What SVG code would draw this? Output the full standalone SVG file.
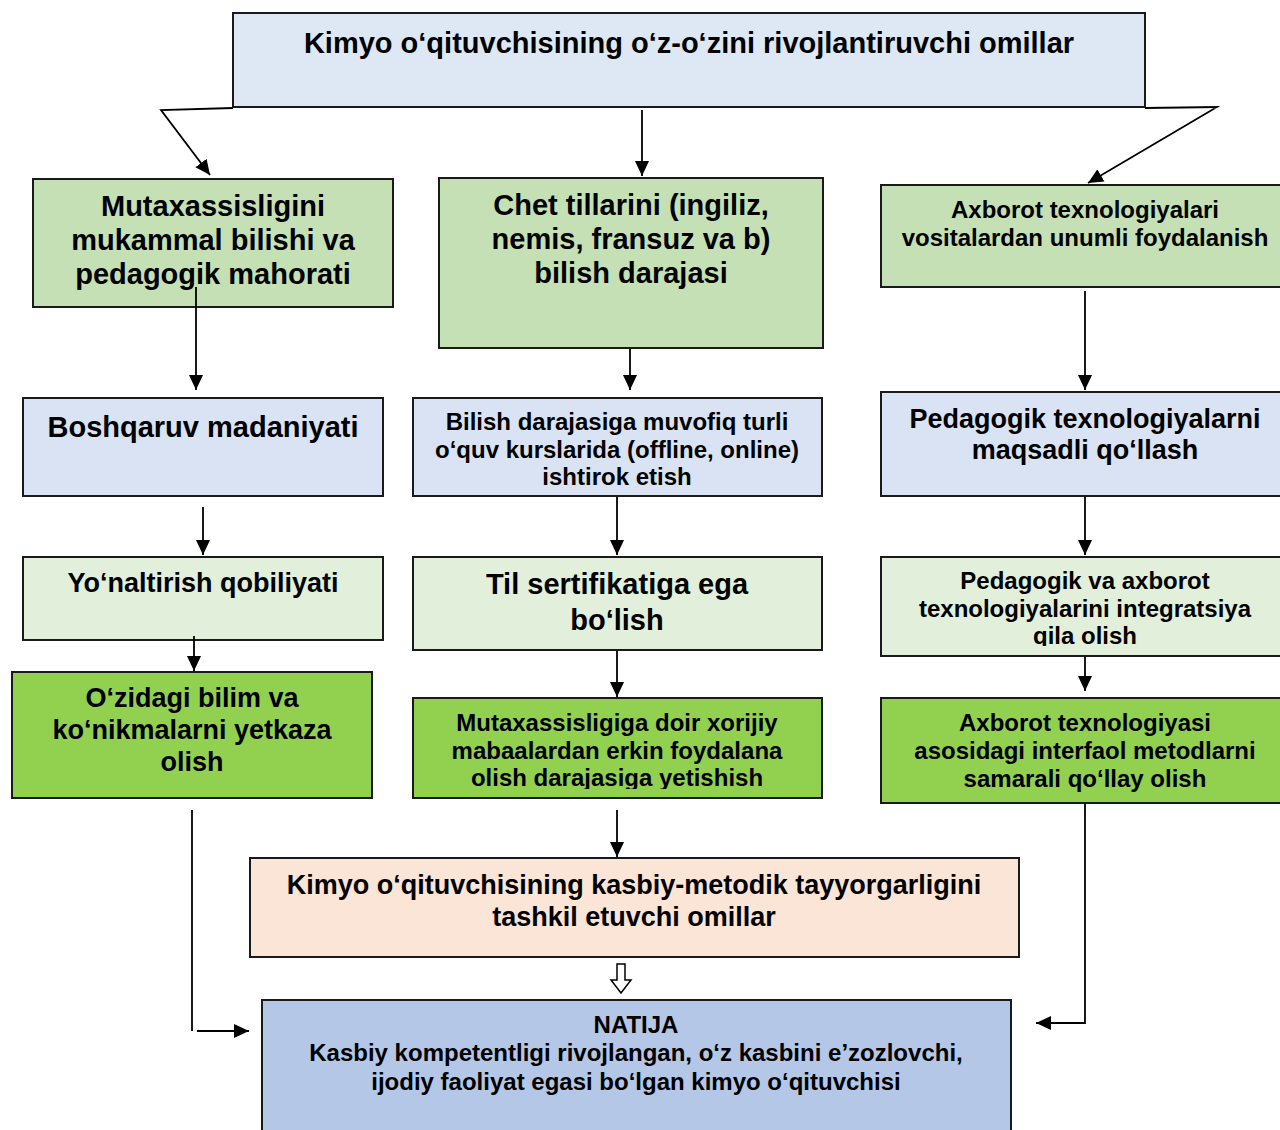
<svg xmlns="http://www.w3.org/2000/svg" width="1280" height="1130" viewBox="0 0 1280 1130">
<defs>
<style>
.box{stroke:#1a1a1a;stroke-width:2}
.t{font-family:"Liberation Sans",Arial,sans-serif;font-weight:bold;fill:#000;text-anchor:middle}
.c{fill:none;stroke:#000;stroke-width:1.8}
.f29{font-size:29px}.f27{font-size:27px}.f24{font-size:24px}
</style>
<marker id="ah" markerUnits="userSpaceOnUse" markerWidth="16" markerHeight="16" viewBox="0 0 16 16" refX="15" refY="8" orient="auto">
<path d="M0,1 L15,8 L0,15 Z" fill="#000"/>
</marker>
<clipPath id="clipB4"><rect x="400" y="690" width="430" height="99"/></clipPath>
<clipPath id="clipC3"><rect x="870" y="550" width="420" height="96"/></clipPath>
</defs>
<rect width="1280" height="1130" fill="#fff"/>

<g id="title">
<rect class="box" x="233" y="13" width="912" height="94" fill="#dde8f4"/>
<text class="t f29" x="689" y="53">Kimyo o‘qituvchisining o‘z-o‘zini rivojlantiruvchi omillar</text>
</g>

<g id="a1">
<rect class="box" x="33" y="179" width="360" height="128" fill="#c5e0b4"/>
<text class="t f29"><tspan x="213" y="216">Mutaxassisligini</tspan><tspan x="213" y="250">mukammal bilishi va</tspan><tspan x="213" y="284">pedagogik mahorati</tspan></text>
</g>
<g id="b1">
<rect class="box" x="439" y="178" width="384" height="170" fill="#c5e0b4"/>
<text class="t f29"><tspan x="631" y="215">Chet tillarini (ingiliz,</tspan><tspan x="631" y="249">nemis, fransuz va b)</tspan><tspan x="631" y="283">bilish darajasi</tspan></text>
</g>
<g id="c1">
<rect class="box" x="881" y="185" width="410" height="102" fill="#c5e0b4"/>
<text class="t f24"><tspan x="1085" y="218">Axborot texnologiyalari</tspan><tspan x="1085" y="246">vositalardan unumli foydalanish</tspan></text>
</g>

<g id="a2">
<rect class="box" x="23" y="398" width="360" height="98" fill="#dae3f3"/>
<text class="t f29" x="203" y="437">Boshqaruv madaniyati</text>
</g>
<g id="a3">
<rect class="box" x="23" y="557" width="360" height="83" fill="#e2efda"/>
<text class="t f27" x="203" y="592">Yo‘naltirish qobiliyati</text>
</g>
<g id="a4">
<rect class="box" x="12" y="672" width="360" height="126" fill="#92d050"/>
<text class="t f27"><tspan x="192" y="707">O‘zidagi bilim va</tspan><tspan x="192" y="739">ko‘nikmalarni yetkaza</tspan><tspan x="192" y="771">olish</tspan></text>
</g>

<g id="b2">
<rect class="box" x="413" y="398" width="409" height="98" fill="#dae3f3"/>
<text class="t f24"><tspan x="617" y="430">Bilish darajasiga muvofiq turli</tspan><tspan x="617" y="458">o‘quv kurslarida (offline, online)</tspan><tspan x="617" y="485">ishtirok etish</tspan></text>
</g>
<g id="b3">
<rect class="box" x="413" y="557" width="409" height="93" fill="#e2efda"/>
<text class="t f29"><tspan x="617" y="594">Til sertifikatiga ega</tspan><tspan x="617" y="630">bo‘lish</tspan></text>
</g>
<g id="b4">
<rect class="box" x="413" y="698" width="409" height="100" fill="#92d050"/>
<text class="t f24" clip-path="url(#clipB4)"><tspan x="617" y="731">Mutaxassisligiga doir xorijiy</tspan><tspan x="617" y="759">mabaalardan erkin foydalana</tspan><tspan x="617" y="786">olish darajasiga yetishish</tspan></text>
</g>

<g id="c2">
<rect class="box" x="881" y="392" width="410" height="104" fill="#dae3f3"/>
<text class="t f27"><tspan x="1085" y="428">Pedagogik texnologiyalarni</tspan><tspan x="1085" y="459">maqsadli qo‘llash</tspan></text>
</g>
<g id="c3">
<rect class="box" x="881" y="557" width="410" height="99" fill="#e2efda"/>
<text class="t f24" clip-path="url(#clipC3)"><tspan x="1085" y="589">Pedagogik va axborot</tspan><tspan x="1085" y="617">texnologiyalarini integratsiya</tspan><tspan x="1085" y="644">qila olish</tspan></text>
</g>
<g id="c4">
<rect class="box" x="881" y="698" width="410" height="105" fill="#92d050"/>
<text class="t f24"><tspan x="1085" y="731">Axborot texnologiyasi</tspan><tspan x="1085" y="759">asosidagi interfaol metodlarni</tspan><tspan x="1085" y="787">samarali qo‘llay olish</tspan></text>
</g>

<g id="d">
<rect class="box" x="250" y="858" width="769" height="99" fill="#fbe5d6"/>
<text class="t f27"><tspan x="634" y="894">Kimyo o‘qituvchisining kasbiy-metodik tayyorgarligini</tspan><tspan x="634" y="926">tashkil etuvchi omillar</tspan></text>
</g>

<g id="result">
<rect class="box" x="262" y="1000" width="749" height="140" fill="#b4c7e7"/>
<text class="t f24"><tspan x="636" y="1033">NATIJA</tspan><tspan x="636" y="1061">Kasbiy kompetentligi rivojlangan, o‘z kasbini e’zozlovchi,</tspan><tspan x="636" y="1090">ijodiy faoliyat egasi bo‘lgan kimyo o‘qituvchisi</tspan></text>
</g>

<g id="connectors">
<polyline class="c" points="233,108 161,110 210,175" marker-end="url(#ah)"/>
<line class="c" x1="642" y1="110" x2="642" y2="176" marker-end="url(#ah)"/>
<polyline class="c" points="1145,108 1217,107 1088,183" marker-end="url(#ah)"/>
<line class="c" x1="196" y1="287" x2="196" y2="390" marker-end="url(#ah)"/>
<line class="c" x1="203" y1="507" x2="203" y2="555" marker-end="url(#ah)"/>
<line class="c" x1="194" y1="636" x2="194" y2="671" marker-end="url(#ah)"/>
<line class="c" x1="192" y1="810" x2="192" y2="1031"/>
<line class="c" x1="197" y1="1031" x2="249" y2="1031" marker-end="url(#ah)"/>
<line class="c" x1="630" y1="349" x2="630" y2="390" marker-end="url(#ah)"/>
<line class="c" x1="617" y1="497" x2="617" y2="555" marker-end="url(#ah)"/>
<line class="c" x1="617" y1="651" x2="617" y2="697" marker-end="url(#ah)"/>
<line class="c" x1="617" y1="810" x2="617" y2="857" marker-end="url(#ah)"/>
<line class="c" x1="1085" y1="291" x2="1085" y2="390" marker-end="url(#ah)"/>
<line class="c" x1="1085" y1="497" x2="1085" y2="555" marker-end="url(#ah)"/>
<line class="c" x1="1085" y1="657" x2="1085" y2="691" marker-end="url(#ah)"/>
<polyline class="c" points="1085,804 1085,1023 1036,1023" marker-end="url(#ah)"/>
<path d="M617,964 L625,964 L625,980 L631,980 L621,993 L611,980 L617,980 Z" fill="#fff" stroke="#000" stroke-width="1.5"/>
</g>
</svg>
